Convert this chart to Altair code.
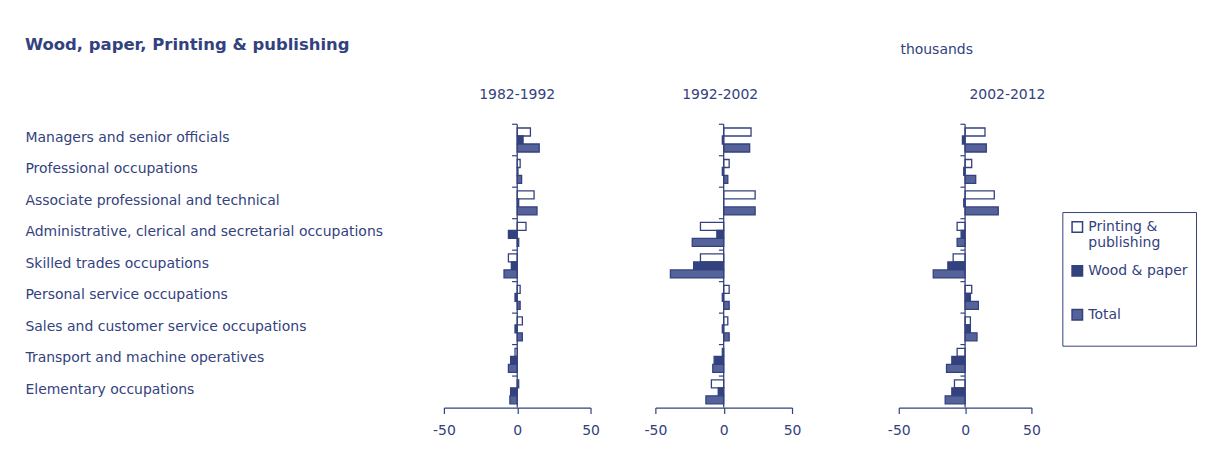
import altair as alt
import pandas as pd

NAVY = "#33427e"
TOTAL = "#55639a"
FONT = "DejaVu Sans"

categories = [
    "Managers and senior officials",
    "Professional occupations",
    "Associate professional and technical",
    "Administrative, clerical and secretarial occupations",
    "Skilled trades occupations",
    "Personal service occupations",
    "Sales and customer service occupations",
    "Transport and machine operatives",
    "Elementary occupations",
]
series = ["Printing & publishing", "Wood & paper", "Total"]
periods = ["1982-1992", "1992-2002", "2002-2012"]

printing_1982 = [9, 2, 11.5, 6, -6, 2, 3.5, -1.5, 1]
wood_1982 = [4, 0.5, 1, -6, -4, -1.5, -1.5, -4.5, -4.5]
total_1982 = [15, 3, 13.5, 1, -9, 2, 3.5, -6, -5]

printing_1992 = [20, 4, 23, -17, -17, 4, 3, -1, -9]
wood_1992 = [-1, -1, 0, -5, -22, -1, -1, -7, -4]
total_1992 = [19, 3, 23, -23, -39, 4, 4, -8, -13]

printing_2002 = [15, 5, 22, -6, -9, 5, 4, -6, -8]
wood_2002 = [-2, -1, -1, -3, -13, 4, 4, -10, -10]
total_2002 = [16, 8, 25, -6, -24, 10, 9, -14, -15]

x_ticks = [-50, 0, 50]


def make_df(p, w, t):
    rows = []
    for i, c in enumerate(categories):
        rows.append({"cat": c, "series": series[0], "value": p[i]})
        rows.append({"cat": c, "series": series[1], "value": w[i]})
        rows.append({"cat": c, "series": series[2], "value": t[i]})
    return pd.DataFrame(rows)


legend = alt.Legend(
    title=None, orient="none", legendX=620, legendY=88,
    symbolType="square", symbolSize=110, symbolStrokeColor=NAVY,
    symbolStrokeWidth=1.5, labelFontSize=14, labelFont=FONT,
    labelColor=NAVY, strokeColor=NAVY, padding=8, rowPadding=12,
    labelLimit=200, labelOffset=4,
    labelExpr="datum.label == 'Printing & publishing' ? ['Printing &', 'publishing'] : [datum.label, ' ']",
)


def panel(title, df, width, first, title_dx):
    x = alt.X(
        "value:Q",
        scale=alt.Scale(domain=[-50, 50], nice=False),
        axis=alt.Axis(values=x_ticks, title=None, grid=False, tickSize=6,
                      labelFontSize=14, labelPadding=10, domainColor=NAVY,
                      tickColor=NAVY, labelColor=NAVY, labelFont=FONT,
                      labelFlush=False, labelExpr="'' + datum.value",
                      domainWidth=1.2, tickWidth=1.2),
    )
    if first:
        yaxis = alt.Axis(title=None, domain=False, ticks=False, labelAlign="left",
                         labelPadding=420, labelFontSize=14, labelLimit=430,
                         labelColor=NAVY, labelFont=FONT, labelOffset=-2)
    else:
        yaxis = None
    y = alt.Y("cat:N", sort=categories,
              scale=alt.Scale(paddingInner=0, paddingOuter=0), axis=yaxis)
    bars = alt.Chart(df).mark_bar(stroke=NAVY, strokeWidth=1.3).encode(
        x=x,
        y=y,
        yOffset=alt.YOffset("series:N", sort=series,
                            scale=alt.Scale(domain=series, paddingInner=0, paddingOuter=0.47)),
        fill=alt.Fill("series:N", scale=alt.Scale(domain=series, range=["white", NAVY, TOTAL]),
                      legend=legend),
    )
    zero = alt.Chart(pd.DataFrame({"v": [0]})).mark_rule(color=NAVY, strokeWidth=1.3).encode(
        x="v:Q")
    ticks = alt.Chart(pd.DataFrame({"cat": categories})).mark_rule(color=NAVY, strokeWidth=1.2).encode(
        y=alt.Y("cat:N", sort=categories, bandPosition=0),
        x=alt.datum(-3.5), x2=alt.datum(0),
    )
    return alt.layer(bars, zero, ticks).properties(
        width=width, height=284,
        title=alt.TitleParams(title, fontSize=14, font=FONT, color=NAVY,
                              fontWeight="normal", dx=title_dx, offset=22, anchor="middle"),
    )


def spacer(w, note=None):
    base = alt.Chart(pd.DataFrame({"a": [0]})).mark_point(opacity=0).encode(
        x=alt.X("a:Q", axis=None), y=alt.Y("a:Q", axis=None)
    )
    if note is not None:
        txt = alt.Chart(pd.DataFrame({"t": [note]})).mark_text(
            fontSize=14, font=FONT, color=NAVY).encode(
            text="t:N", x=alt.value(w + 38), y=alt.value(-74))
        base = alt.layer(base, txt)
    return base.properties(width=w, height=284)


p1 = panel(periods[0], make_df(printing_1982, wood_1982, total_1982), 147, True, 0)
p2 = panel(periods[1], make_df(printing_1992, wood_1992, total_1992), 137, False, -3.5)
p3 = panel(periods[2], make_df(printing_2002, wood_2002, total_2002), 133, False, 42.5)

chart = alt.hconcat(p1, spacer(65), p2, spacer(107, "thousands"), p3,
                    spacing=0, bounds="flush").properties(
    title=alt.TitleParams("Wood, paper, Printing & publishing", anchor="start",
                          fontSize=16.5, font=FONT, fontWeight="bold", color=NAVY, offset=-10),
    padding={"left": 17, "top": 28, "right": 0, "bottom": 10},
    background="white",
).configure_view(stroke=None)

chart.save("out.html", embed_options={"renderer": "svg", "actions": False})
